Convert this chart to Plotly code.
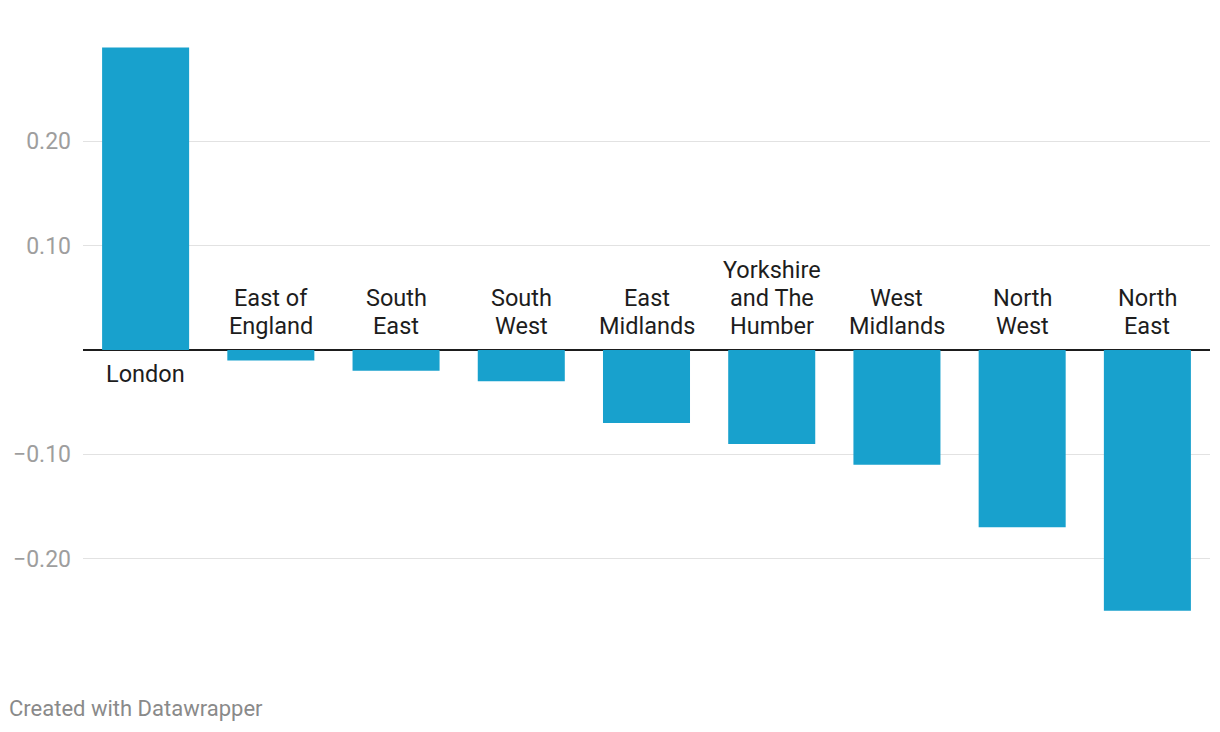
import plotly.graph_objects as go

regions = ["London", "East of England", "South East", "South West", "East Midlands",
           "Yorkshire and The Humber", "West Midlands", "North West", "North East"]
label_lines = [["London"], ["East of", "England"], ["South", "East"], ["South", "West"],
               ["East", "Midlands"], ["Yorkshire", "and The", "Humber"], ["West", "Midlands"],
               ["North", "West"], ["North", "East"]]
values = [0.29, -0.01, -0.02, -0.03, -0.07, -0.09, -0.11, -0.17, -0.25]
tick_vals = [-0.2, -0.1, 0.1, 0.2]
tick_text = ["\u22120.20", "\u22120.10", "0.10", "0.20"]

W, H = 1212, 724   # page has an 8px body margin
L, R, T, B = 75, 10, 28.5, 68.5
fig = go.Figure()
fig.add_trace(go.Bar(x=regions, y=values, marker=dict(color="#18a1cd", line=dict(width=0)),
                     hoverinfo="skip"))

LS = 28
for r, lines, v in zip(regions, label_lines, values):
    n = len(lines)
    for i, line in enumerate(lines):
        if v > 0:
            shift = -(24 + i * LS)
        else:
            shift = 24 + (n - 1 - i) * LS
        fig.add_annotation(x=r, y=0, xref="x", yref="y", text=line, showarrow=False,
                           yanchor="middle", yshift=shift,
                           font=dict(family="Roboto", size=23.5, color="#1d1d1d"))

fig.add_annotation(xref="paper", yref="paper", text="Created with Datawrapper",
                   x=(-1 - L) / (W - L - R), y=((H - B) - 701) / (H - T - B),
                   showarrow=False, xanchor="left", yanchor="middle",
                   font=dict(family="Roboto", size=22, color="#8a8a8a"))

fig.update_layout(
    width=W, height=H,
    margin=dict(l=L, r=R, t=T, b=B, autoexpand=False),
    paper_bgcolor="white", plot_bgcolor="white",
    bargap=0.305, showlegend=False,
    font=dict(family="Roboto"),
    xaxis=dict(showticklabels=False, showgrid=False, zeroline=False, showline=False,
               ticks="", automargin=False),
    yaxis=dict(range=[-0.3, 0.3], tickvals=tick_vals, ticktext=tick_text,
               showgrid=True, gridcolor="#e2e2e2", gridwidth=1,
               zeroline=True, zerolinecolor="#1d1d1d", zerolinewidth=2,
               tickfont=dict(family="Roboto", size=23, color="#9e9e9e"),
               ticks="", ticklabelstandoff=11, showline=False, automargin=False),
)
fig.write_html("out.html")
